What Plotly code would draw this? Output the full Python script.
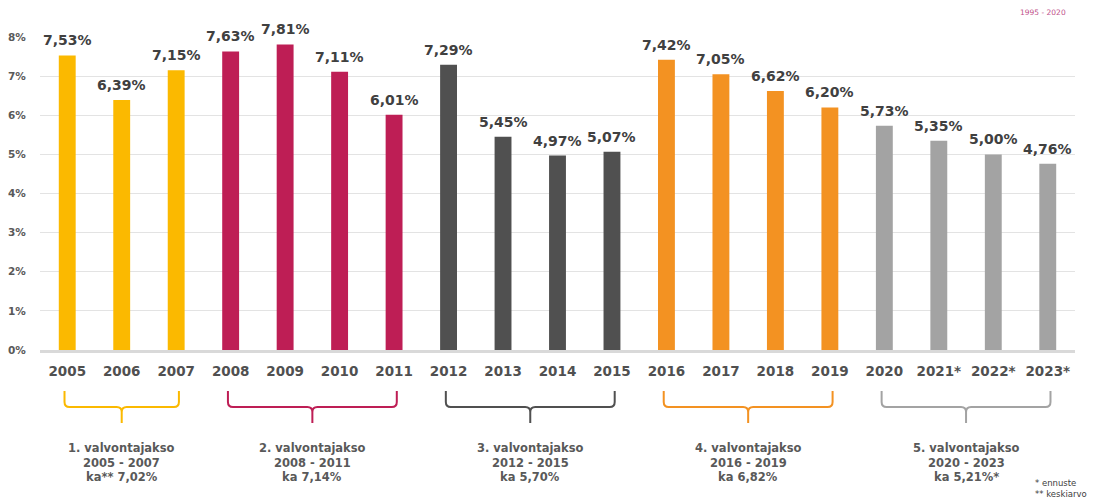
import plotly.graph_objects as go

years = ["2005", "2006", "2007", "2008", "2009", "2010", "2011", "2012", "2013", "2014",
         "2015", "2016", "2017", "2018", "2019", "2020", "2021*", "2022*", "2023*"]
values = [7.53, 6.39, 7.15, 7.63, 7.81, 7.11, 6.01, 7.29, 5.45, 4.97,
          5.07, 7.42, 7.05, 6.62, 6.20, 5.73, 5.35, 5.00, 4.76]
group_start = [0, 3, 7, 11, 15]
group_end = [2, 6, 10, 14, 18]
group_colors = ["#FBB900", "#BE1E55", "#505050", "#F39222", "#A3A3A3"]
group_title = ["1. valvontajakso", "2. valvontajakso", "3. valvontajakso",
               "4. valvontajakso", "5. valvontajakso"]
group_years = ["2005 - 2007", "2008 - 2011", "2012 - 2015", "2016 - 2019", "2020 - 2023"]
group_avg = ["ka** 7,02%", "ka 7,14%", "ka 5,70%", "ka 6,82%", "ka 5,21%*"]
y_ticks = [0, 1, 2, 3, 4, 5, 6, 7, 8]
y_tick_text = ["0%", "1%", "2%", "3%", "4%", "5%", "6%", "7%", "8%"]

OFF = 8  # page body margin
W, H = 1097 - OFF, 498 - OFF
ML, MR, MT = 40 - OFF, 22, 37 - OFF
PH = 313
MB = H - MT - PH
PW = W - ML - MR

def py(pix):
    return (H - MB - (pix - OFF)) / PH

def px(pix):
    return (pix - OFF - ML) / PW

bar_colors = []
for i in range(len(years)):
    for g in range(len(group_start)):
        if group_start[g] <= i <= group_end[g]:
            bar_colors.append(group_colors[g])

x_idx = list(range(len(years)))
labels = [f"{v:.2f}".replace(".", ",") + "%" for v in values]

fig = go.Figure()
fig.add_trace(go.Bar(
    x=x_idx, y=values, marker=dict(color=bar_colors, line=dict(width=0)),
    hoverinfo="skip", width=0.31,
))

n = len(years)
cat_px = PW / n
rx = 5 / cat_px
ry = 5 / PH
yTop, yMid, yBot = py(391), py(407), py(423)
shapes = []
annotations = []
for i in range(n):
    annotations.append(dict(x=x_idx[i], y=values[i], xref="x", yref="y", text=labels[i],
                            showarrow=False, xanchor="center", yanchor="bottom", yshift=5,
                            font=dict(family="DejaVu Sans", size=14, color="#404040", weight="bold")))
for g in range(len(group_start)):
    x0 = group_start[g] - 0.05
    x1 = group_end[g] + 0.05
    xc = (x0 + x1) / 2
    path = (f"M {x0},{yTop} L {x0},{yMid + ry} Q {x0},{yMid} {x0 + rx},{yMid} "
            f"L {xc - rx},{yMid} Q {xc},{yMid} {xc},{yMid - ry} L {xc},{yBot} "
            f"M {xc},{yMid - ry} Q {xc},{yMid} {xc + rx},{yMid} "
            f"L {x1 - rx},{yMid} Q {x1},{yMid} {x1},{yMid + ry} L {x1},{yTop}")
    shapes.append(dict(type="path", path=path, xref="x", yref="paper",
                       line=dict(color=group_colors[g], width=2)))
    for k, txt in enumerate([group_title[g], group_years[g], group_avg[g]]):
        annotations.append(dict(x=xc, y=py(448 + 14.5 * k), xref="x", yref="paper",
                                text=txt, showarrow=False, xanchor="center", yanchor="middle",
                                font=dict(family="DejaVu Sans", size=11.5, color="#595959", weight="bold")))

annotations.append(dict(x=px(1033), y=py(483), xref="paper", yref="paper",
                        text="* ennuste", showarrow=False, xanchor="left", yanchor="middle",
                        font=dict(family="DejaVu Sans", size=8.5, color="#404040")))
annotations.append(dict(x=px(1033), y=py(494), xref="paper", yref="paper",
                        text="** keskiarvo", showarrow=False, xanchor="left", yanchor="middle",
                        font=dict(family="DejaVu Sans", size=8.5, color="#404040")))
annotations.append(dict(x=px(1043), y=py(13), xref="paper", yref="paper",
                        text="1995 - 2020", showarrow=False, xanchor="center", yanchor="middle",
                        font=dict(family="DejaVu Sans", size=7.5, color="#C0508A")))

fig.update_layout(
    width=W, height=H,
    margin=dict(l=ML, r=MR, t=MT, b=MB, autoexpand=False),
    plot_bgcolor="white", paper_bgcolor="white",
    showlegend=False,
    shapes=shapes, annotations=annotations,
    xaxis=dict(range=[-0.5, n - 0.5], tickvals=x_idx, ticktext=years, automargin=False,
               showgrid=False, zeroline=False, showline=True, linecolor="#D9D9D9", linewidth=3,
               ticks="outside", ticklen=7, tickcolor="rgba(0,0,0,0)",
               tickfont=dict(family="DejaVu Sans", size=13.5, color="#505050", weight="bold"),
               fixedrange=True),
    yaxis=dict(range=[0, 8], tickvals=y_ticks, ticktext=y_tick_text, automargin=False,
               showgrid=True, gridcolor="#E3E3E3", gridwidth=1, zeroline=False,
               tickfont=dict(family="DejaVu Sans", size=10.5, color="#595959", weight="bold"),
               ticks="outside", ticklen=11, tickcolor="rgba(0,0,0,0)", fixedrange=True),
)

fig.write_html("out.html")
